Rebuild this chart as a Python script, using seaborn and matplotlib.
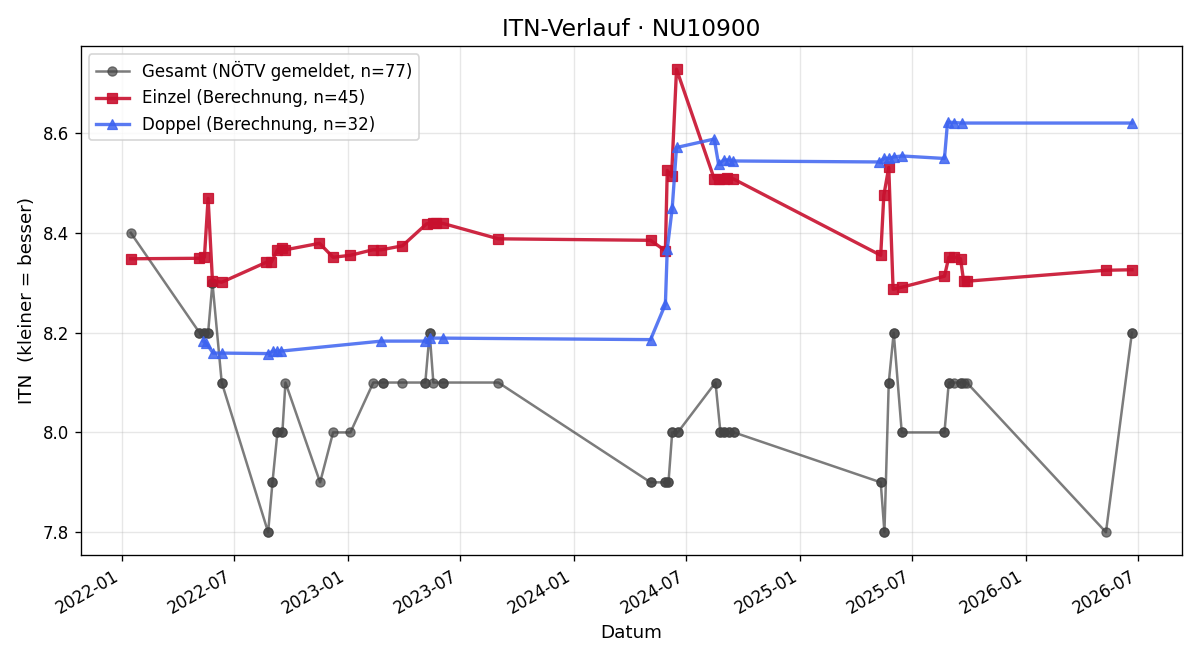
# ITN history chart

import pandas as pd
import matplotlib
matplotlib.use("Agg")
import matplotlib.pyplot as plt
import matplotlib.dates as mdates
import seaborn as sns

# Data

gesamt_dates = [
    "2022-01-15", "2022-05-06", "2022-05-06", "2022-05-14", "2022-05-14",
    "2022-05-20", "2022-05-20", "2022-05-27", "2022-05-27", "2022-06-11",
    "2022-06-11", "2022-08-25", "2022-08-25", "2022-09-01", "2022-09-01",
    "2022-09-09", "2022-09-09", "2022-09-17", "2022-09-17", "2022-09-22",
    "2022-11-17", "2022-12-08", "2023-01-05", "2023-02-11", "2023-02-26",
    "2023-02-26", "2023-03-30", "2023-05-06", "2023-05-06", "2023-05-13",
    "2023-05-13", "2023-05-19", "2023-06-03", "2023-06-03", "2023-09-01",
    "2024-05-04", "2024-05-04", "2024-05-27", "2024-05-27", "2024-06-02",
    "2024-06-02", "2024-06-08", "2024-06-08", "2024-06-17", "2024-06-17",
    "2024-08-17", "2024-08-17", "2024-08-25", "2024-08-25", "2024-08-31",
    "2024-08-31", "2024-09-08", "2024-09-08", "2024-09-16", "2024-09-16",
    "2025-05-11", "2025-05-11", "2025-05-17", "2025-05-17", "2025-05-24",
    "2025-05-24", "2025-06-01", "2025-06-01", "2025-06-14", "2025-06-14",
    "2025-08-22", "2025-08-22", "2025-08-29", "2025-08-29", "2025-09-07",
    "2025-09-17", "2025-09-17", "2025-09-22", "2025-09-27", "2026-05-10",
    "2026-06-21", "2026-06-21",
]
gesamt_itn = [
    8.4, 8.2, 8.2, 8.2, 8.2,
    8.2, 8.2, 8.3, 8.3, 8.1,
    8.1, 7.8, 7.8, 7.9, 7.9,
    8.0, 8.0, 8.0, 8.0, 8.1,
    7.9, 8.0, 8.0, 8.1, 8.1,
    8.1, 8.1, 8.1, 8.1, 8.2,
    8.2, 8.1, 8.1, 8.1, 8.1,
    7.9, 7.9, 7.9, 7.9, 7.9,
    7.9, 8.0, 8.0, 8.0, 8.0,
    8.1, 8.1, 8.0, 8.0, 8.0,
    8.0, 8.0, 8.0, 8.0, 8.0,
    7.9, 7.9, 7.8, 7.8, 8.1,
    8.1, 8.2, 8.2, 8.0, 8.0,
    8.0, 8.0, 8.1, 8.1, 8.1,
    8.1, 8.1, 8.1, 8.1, 7.8,
    8.2, 8.2,
]

einzel_dates = [
    "2022-01-15", "2022-05-06", "2022-05-14", "2022-05-20", "2022-05-27",
    "2022-06-11", "2022-08-22", "2022-08-30", "2022-09-09", "2022-09-17",
    "2022-09-22", "2022-11-16", "2022-12-08", "2023-01-05", "2023-02-10",
    "2023-02-24", "2023-03-30", "2023-05-08", "2023-05-18", "2023-05-24",
    "2023-06-03", "2023-09-01", "2024-05-04", "2024-05-28", "2024-05-31",
    "2024-06-07", "2024-06-15", "2024-08-15", "2024-08-23", "2024-08-30",
    "2024-09-05", "2024-09-15", "2025-05-11", "2025-05-16", "2025-05-24",
    "2025-05-31", "2025-06-14", "2025-08-22", "2025-08-29", "2025-09-07",
    "2025-09-17", "2025-09-22", "2025-09-27", "2026-05-10", "2026-06-21",
]
einzel_itn = [
    8.348, 8.349, 8.351, 8.469, 8.304,
    8.301, 8.341, 8.341, 8.366, 8.369,
    8.366, 8.379, 8.351, 8.355, 8.366,
    8.366, 8.374, 8.418, 8.419, 8.419,
    8.419, 8.388, 8.385, 8.364, 8.525,
    8.513, 8.728, 8.508, 8.508, 8.508,
    8.509, 8.508, 8.355, 8.475, 8.531,
    8.287, 8.291, 8.313, 8.351, 8.351,
    8.348, 8.303, 8.303, 8.325, 8.326,
]

doppel_dates = [
    "2022-05-12", "2022-05-17", "2022-05-28", "2022-06-11", "2022-08-25",
    "2022-09-02", "2022-09-09", "2022-09-15", "2023-02-24", "2023-05-06",
    "2023-05-13", "2023-06-03", "2024-05-04", "2024-05-28", "2024-05-31",
    "2024-06-08", "2024-06-15", "2024-08-15", "2024-08-22", "2024-08-30",
    "2024-09-07", "2024-09-15", "2025-05-09", "2025-05-17", "2025-05-24",
    "2025-06-01", "2025-06-14", "2025-08-22", "2025-08-27", "2025-09-07",
    "2025-09-19", "2026-06-21",
]
doppel_itn = [
    8.183, 8.179, 8.159, 8.159, 8.158,
    8.163, 8.163, 8.163, 8.183, 8.183,
    8.189, 8.189, 8.186, 8.257, 8.367,
    8.449, 8.571, 8.588, 8.537, 8.546,
    8.546, 8.544, 8.542, 8.550, 8.549,
    8.552, 8.554, 8.549, 8.622, 8.621,
    8.620, 8.620,
]

df_gesamt = pd.DataFrame({"Datum": pd.to_datetime(gesamt_dates), "ITN": gesamt_itn})
df_einzel = pd.DataFrame({"Datum": pd.to_datetime(einzel_dates), "ITN": einzel_itn})
df_doppel = pd.DataFrame({"Datum": pd.to_datetime(doppel_dates), "ITN": doppel_itn})

# Plot

fig, ax = plt.subplots(figsize=(10, 5.5), dpi=120)

sns.lineplot(
    data=df_gesamt, x="Datum", y="ITN", ax=ax,
    estimator=None, sort=False,
    color="#444444", alpha=0.7, linewidth=1.5,
    marker="o", markersize=5.5, markeredgecolor="#444444",
    label=f"Gesamt (NÖTV gemeldet, n={len(gesamt_itn)})"
)

sns.lineplot(
    data=df_einzel, x="Datum", y="ITN", ax=ax,
    estimator=None, sort=False,
    color="#c8102e", alpha=0.9, linewidth=2,
    marker="s", markersize=6.5, markeredgecolor="#c8102e",
    label=f"Einzel (Berechnung, n={len(einzel_itn)})"
)

sns.lineplot(
    data=df_doppel, x="Datum", y="ITN", ax=ax,
    estimator=None, sort=False,
    color="#3d63f0", alpha=0.85, linewidth=2,
    marker="^", markersize=6.5, markeredgecolor="#3d63f0",
    label=f"Doppel (Berechnung, n={len(doppel_itn)})"
)

ax.xaxis.set_major_formatter(mdates.DateFormatter("%Y-%m"))
ax.grid(True, alpha=0.3)

ax.set_title("ITN-Verlauf · NU10900", fontsize=14)
ax.set_xlabel("Datum", fontsize=11)
ax.set_ylabel("ITN  (kleiner = besser)", fontsize=11)
ax.legend(loc="upper left", fontsize=10)

fig.autofmt_xdate()
fig.tight_layout()

plt.savefig("out.png", dpi=120)
